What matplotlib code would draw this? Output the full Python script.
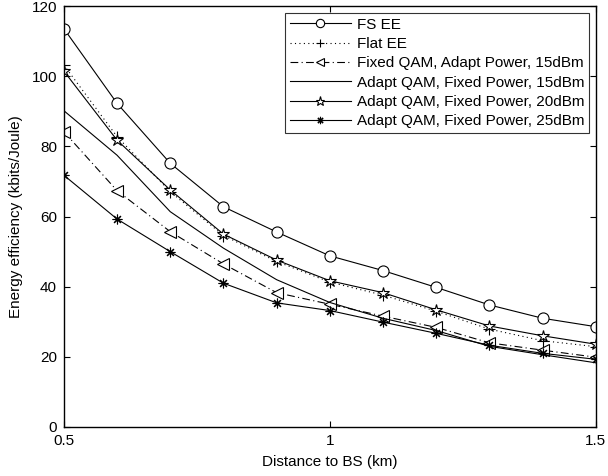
import matplotlib
matplotlib.use("Agg")
import matplotlib.pyplot as plt

plt.rcParams['font.family'] = ['Liberation Sans', 'DejaVu Sans']

distance = [0.5, 0.6, 0.7, 0.8, 0.9, 1.0, 1.1, 1.2, 1.3, 1.4, 1.5]
fs_ee = [113.6, 92.3, 75.2, 62.8, 55.6, 48.8, 44.6, 39.8, 34.8, 31.0, 28.6]
flat_ee = [103.2, 82.8, 67.1, 54.6, 47.2, 41.3, 37.6, 33.0, 27.9, 24.6, 22.9]
fixed_qam_15 = [84.2, 67.4, 55.7, 46.5, 38.3, 35.0, 31.6, 28.4, 24.0, 21.9, 19.9]
adapt_qam_15 = [90.2, 77.5, 61.4, 51.0, 42.0, 35.5, 31.0, 27.5, 23.0, 20.6, 18.3]
adapt_qam_20 = [101.5, 81.8, 67.6, 55.0, 47.6, 41.7, 38.3, 33.4, 28.8, 26.0, 23.6]
adapt_qam_25 = [71.8, 59.3, 50.0, 41.0, 35.4, 33.2, 29.9, 26.7, 23.3, 21.0, 19.3]

xticks = [0.5, 1, 1.5]
xticklabels = ['0.5', '1', '1.5']
yticks = [0, 20, 40, 60, 80, 100, 120]

fs = 11
fig = plt.figure(figsize=(6.08, 4.76), dpi=100)
ax = fig.add_axes([0.105, 0.103, 0.875, 0.884])

lw = 0.8
ms = 7
ax.plot(distance, fs_ee, color='k', lw=lw, marker='o', ms=ms + 1, mfc='white', mec='k', mew=0.8, label='FS EE')
ax.plot(distance, flat_ee, color='k', lw=lw, ls=(0, (1, 3)), marker='+', ms=ms + 1, mew=0.8, label='Flat EE')
ax.plot(distance, fixed_qam_15, color='k', lw=lw, ls=(0, (7, 3, 1, 3)), marker='<', ms=ms + 1, mfc='white', mec='k', mew=0.8,
        label='Fixed QAM, Adapt Power, 15dBm')
ax.plot(distance, adapt_qam_15, color='k', lw=lw, ls='-', label='Adapt QAM, Fixed Power, 15dBm')
ax.plot(distance, adapt_qam_20, color='k', lw=lw, marker='*', ms=ms + 2, mfc='white', mec='k', mew=0.8,
        label='Adapt QAM, Fixed Power, 20dBm')
ax.plot(distance, adapt_qam_25, color='k', lw=lw, marker=(8, 2, 0), ms=ms, mec='k', mew=0.8,
        label='Adapt QAM, Fixed Power, 25dBm')

ax.set_xlim(0.5, 1.5)
ax.set_ylim(0, 120)
ax.set_xticks(xticks)
ax.set_xticklabels(xticklabels)
ax.set_yticks(yticks)
ax.tick_params(direction='in', top=True, right=True, length=4, width=0.8, labelsize=fs, pad=5)
for s in ax.spines.values():
    s.set_linewidth(1.0)
ax.set_xlabel('Distance to BS (km)', fontsize=fs, labelpad=5)
ax.set_ylabel('Energy efficiency (kbits/Joule)', fontsize=fs, labelpad=6)

leg = ax.legend(loc='upper right', fontsize=fs, frameon=True, fancybox=False, edgecolor='k',
                handlelength=4.0, handletextpad=0.4, labelspacing=0.35, borderpad=0.3,
                borderaxespad=0.45, markerscale=0.75)
leg.get_frame().set_linewidth(0.8)

fig.savefig('out.png', dpi=100)
